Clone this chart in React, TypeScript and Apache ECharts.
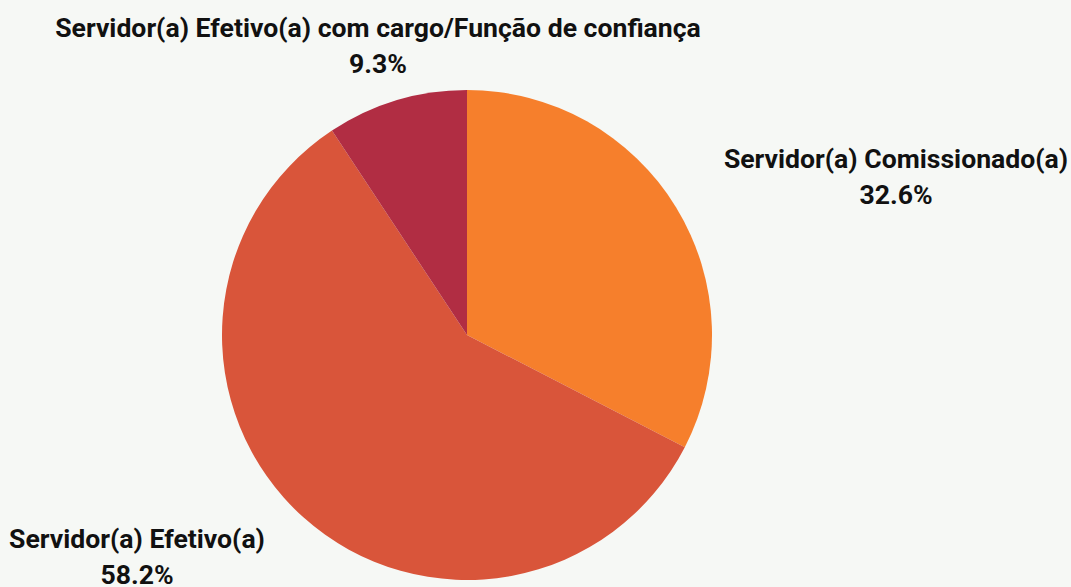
import React, { useEffect, useRef } from "react";
import * as echarts from "echarts";

const categories = [
  "Servidor(a) Comissionado(a)",
  "Servidor(a) Efetivo(a)",
  "Servidor(a) Efetivo(a) com cargo/Função de confiança",
];
const values = [32.6, 58.2, 9.3];
const colors = ["#f67f2c", "#d9553a", "#b12d43"];
// label block centres (layout only)
const labelPos = [
  [896, 176],
  [137, 556],
  [378, 45],
];

export default function App() {
  const ref = useRef<HTMLDivElement>(null);
  useEffect(() => {
    document.body.style.margin = "0";
    const chart = echarts.init(ref.current!, undefined, { renderer: "svg" });
    chart.setOption({
      animation: false,
      backgroundColor: "#f6f8f5",
      series: [
        {
          type: "pie",
          center: [467, 335],
          radius: 245,
          startAngle: 90,
          clockwise: true,
          data: categories.map((c, i) => ({
            name: c,
            value: values[i],
            itemStyle: { color: colors[i] },
          })),
          label: {
            show: true,
            position: "outside",
            formatter: "{b}\n{c}%",
            fontFamily: "Roboto",
            fontWeight: "bold",
            fontSize: 26.6,
            lineHeight: 36,
            color: "#111111",
            align: "center",
            overflow: "none",
            width: 1000,
          },
          labelLine: { show: false },
          labelLayout: (p: any) => ({
            x: labelPos[p.dataIndex][0],
            y: labelPos[p.dataIndex][1],
            align: "center",
            verticalAlign: "middle",
          }),
        },
      ],
    });
    return () => chart.dispose();
  }, []);
  return <div ref={ref} style={{ width: 1071, height: 587 }} />;
}
